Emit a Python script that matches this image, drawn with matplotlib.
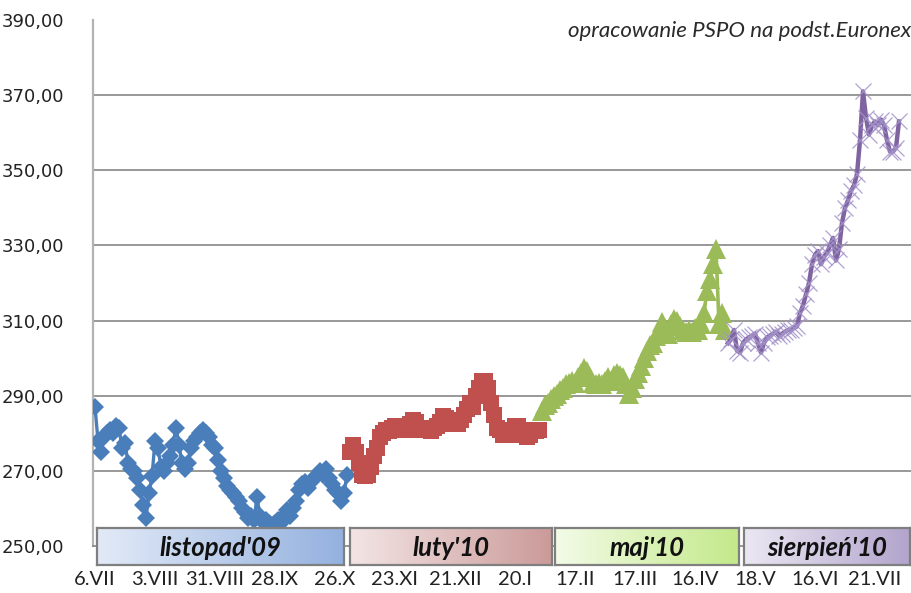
import numpy as np
import matplotlib
matplotlib.use('Agg')
import matplotlib.pyplot as plt
from matplotlib.colors import to_rgb

W, H = 912, 593

tick_labels = ['6.VII', '3.VIII', '31.VIII', '28.IX', '26.X', '23.XI', '21.XII',
               '20.I', '17.II', '17.III', '16.IV', '18.V', '16.VI', '21.VII']
tick_step = 20
y_ticks = [250, 270, 290, 310, 330, 350, 370, 390]

blue_vals = [287, 278, 275, 279, 280, 281, 280, 282, 281.5, 276,
             277.5, 272, 270.5, 270, 268, 265, 261, 257.5, 264, 268.5,
             278, 276, 271, 270, 272, 274, 277, 281.5, 277, 272,
             270.5, 272, 276, 278, 279, 280, 281, 280, 279, 277,
             276, 273, 270, 268, 266, 265, 264, 263, 262, 260,
             259, 257.5, 258, 257, 263, 258, 256.5, 257, 256, 255.5,
             256, 257, 256, 258, 259.5, 258, 260, 262, 265, 266.5,
             267, 265.5, 267, 268, 269, 270, 269, 270.5, 268, 266.5,
             265, 264, 262, 264, 269]
red_vals = [275, 277, 275, 272, 269, 268.5, 269, 271, 274, 276,
            279, 280, 281, 280.5, 281.5, 282, 281, 281.5, 282, 281,
            282.5, 283.5, 283, 281.5, 281, 281.5, 281, 280.5, 281.5, 282,
            283, 284.5, 284, 283, 282.5, 283, 282.5, 283.5, 285, 286.5,
            288, 287, 290, 292, 294, 294, 292, 288, 285, 281.5,
            281, 279.5, 280, 279.5, 280, 282, 282, 281, 279.5, 279,
            279.5, 281, 280.5, 281]
green_vals = [286, 287.5, 288, 289, 290, 290.5, 291.5, 292, 293, 293.5,
              294, 293.5, 295, 296, 297.5, 296.5, 295, 293.5, 293, 293.5,
              293, 294, 295, 294, 295.5, 296, 295.5, 295, 293, 290.5,
              292, 294.5, 296, 298, 300, 302, 303.5, 304, 306, 307.5,
              309.5, 308, 306.5, 309, 310.5, 310, 308.5, 307.5, 307, 307.5,
              307, 308, 307.5, 309, 312, 318, 321, 325, 329, 309,
              312, 307.5]
purple_vals = [304, 305, 307.5, 302, 301.5, 304, 305, 305.5, 306, 306.5,
               304, 301.5, 304, 305.5, 306, 306.5, 307, 306, 306.5, 307,
               307.5, 307.5, 308, 308.5, 312, 314, 317, 320, 325, 327.5,
               328.5, 325, 327, 328, 330, 332, 326, 329, 336, 340,
               342, 344.5, 346, 349, 358, 371, 364, 359.5, 362, 363,
               362, 363.5, 362, 358, 355, 355, 356, 363]

series = [
    dict(vals=blue_vals, color='#4a7ebb', marker='D', ms=9.5, lw=2.4, mew=0),
    dict(vals=red_vals, color='#c0504d', marker='s', ms=12.0, lw=2.4, mew=0),
    dict(vals=green_vals, color='#9bbb59', marker='^', ms=15.0, lw=2.6, mew=0),
    dict(vals=purple_vals, color='#8064a2', marker='x', ms=11, lw=3.2, mew=0.9),
]

box_labels = ["listopad'09", "luty'10", "maj'10", "sierpień'10"]
box_colors = [('#e2eaf7', '#94b1df'), ('#f3e5e5', '#cb9a99'),
              ('#f3fbe7', '#c3e98a'), ('#ebe8f3', '#b2a4cc')]
box_px = [(97, 344), (350, 552), (555, 739), (744, 910)]

fig = plt.figure(figsize=(W / 100, H / 100), dpi=100)
ax_left = 93.5 / W
ax_bottom = (H - 546) / H
ax_top = (H - 20) / H
ax = fig.add_axes([ax_left, ax_bottom, 1.0 - ax_left, ax_top - ax_bottom])

start = 0
for s in series:
    n = len(s['vals'])
    xs = np.arange(start, start + n)
    if s['marker'] == 'x':
        ax.plot(xs, s['vals'], color=s['color'], lw=s['lw'], zorder=3,
                solid_joinstyle='round')
        ax.plot(xs, s['vals'], ls='none', marker='x', ms=s['ms'],
                mec='#a392c9', mew=s['mew'], zorder=3, alpha=0.85)
    else:
        ax.plot(xs, s['vals'], color=s['color'], lw=s['lw'], marker=s['marker'],
                ms=s['ms'], mfc=s['color'], mec=s['color'], mew=s['mew'], zorder=3)
    start += n

ax.set_ylim(250, 390)
ax.set_xlim(-0.5, (W - 93.5) / 3 - 0.5)
ax.set_yticks(y_ticks)
ax.set_yticklabels([f'{v:.2f}'.replace('.', ',') for v in y_ticks],
                   fontsize=13, color='#222222', family='DejaVu Sans')
ax.set_xticks(np.arange(len(tick_labels)) * tick_step)
ax.set_xticklabels(tick_labels, fontsize=14.5, color='#222222', family='Lato')
ax.tick_params(axis='y', length=0, pad=21)
ax.tick_params(axis='x', length=0, pad=18)

ax.grid(axis='y', color='#868686', lw=1.2, zorder=1)
ax.grid(axis='x', visible=False)
gls = ax.get_ygridlines()
gls[0].set_visible(False)
gls[-1].set_visible(False)
for sp in ['top', 'right']:
    ax.spines[sp].set_visible(False)
ax.spines['left'].set_color('#b3b3b3')
ax.spines['left'].set_linewidth(1.6)
ax.spines['bottom'].set_color('#868686')
ax.spines['bottom'].set_linewidth(1.2)

# labelled gradient boxes
y0_px, y1_px = 528, 565
for (x0, x1), (c0, c1), lab in zip(box_px, box_colors, box_labels):
    bax = fig.add_axes([x0 / W, (H - y1_px) / H, (x1 - x0) / W, (y1_px - y0_px) / H])
    a = np.array(to_rgb(c0))
    b = np.array(to_rgb(c1))
    t = np.linspace(0, 1, 256)[None, :, None]
    grad = a + (b - a) * t
    bax.imshow(grad, aspect='auto', extent=[0, 1, 0, 1])
    bax.set_xticks([])
    bax.set_yticks([])
    for sp in bax.spines.values():
        sp.set_color('#7f7f7f')
        sp.set_linewidth(1.6)
    bax.text(0.5, 0.47, lab, ha='center', va='center', fontsize=18.5,
             fontweight='bold', fontstyle='italic', family='Lato', color='#111111',
             transform=bax.transAxes)

fig.text(568 / W, 1 - 31 / H, 'opracowanie PSPO na podst.Euronext', ha='left',
         va='center', fontsize=16, fontstyle='italic', family='Lato', color='#2a2a2a')

fig.savefig('out.png', dpi=100)
